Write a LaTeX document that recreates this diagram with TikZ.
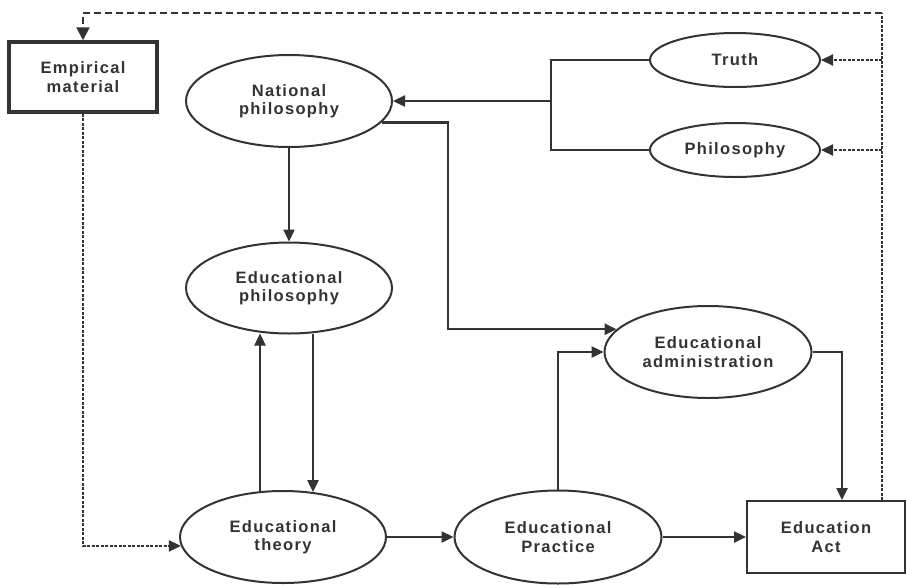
\documentclass[tikz,border=0pt]{standalone}
\usepackage{fontspec}
\setmainfont{Liberation Sans}[LetterSpace=8]
\usetikzlibrary{shapes.geometric,arrows.meta,calc}
\definecolor{ink}{HTML}{333333}
\begin{document}
\begin{tikzpicture}[x=1pt,y=-1pt,
  every node/.style={text=ink,font=\fontsize{16.5}{18.5}\selectfont\bfseries,align=center,inner sep=0pt},
  ell/.style={ellipse,draw=ink,line width=2pt},
  boxa/.style={rectangle,draw=ink,line width=2pt},
  ln/.style={draw=ink,line width=2.4pt,line join=miter},
  tip/.style={-{Triangle[length=12pt,width=11pt]}},
  arr/.style={ln,tip},
  dsh/.style={ln,line width=2.2pt,dash pattern=on 3pt off 1.5pt},
  dshl/.style={ln,line width=2.2pt,dash pattern=on 7pt off 4pt}]
\useasboundingbox (0,0) rectangle (907,584);
\node[boxa,line width=3.5pt,minimum width=148pt,minimum height=70pt] (emp) at (83,77) {Empirical\\material};
\node[ell,minimum width=206pt,minimum height=92pt] (natp) at (289,101) {National\\philosophy};
\node[ell,minimum width=170pt,minimum height=54pt] (truth) at (735,60) {Truth};
\node[ell,minimum width=170pt,minimum height=54pt] (phil) at (735,150) {Philosophy};
\node[ell,minimum width=206pt,minimum height=91pt] (edphil) at (289,288) {Educational\\philosophy};
\node[ell,minimum width=207pt,minimum height=92pt] (edadm) at (708,352) {Educational\\administration};
\node[ell,minimum width=206pt,minimum height=92pt] (theory) at (283,537) {Educational\\theory};
\node[ell,minimum width=207pt,minimum height=93pt] (practice) at (558,537) {Educational\\Practice};
\node[boxa,minimum width=158pt,minimum height=72pt] (act) at (826,537) {Education\\Act};
\coordinate (bx) at (551,0);
\coordinate (c1) at (448,0);
\coordinate (up) at (260,0);
\coordinate (dn) at (313,0);
\coordinate (a2) at (842,0);
\coordinate (r) at (882,0);
\coordinate (top) at (0,13);
% bracket from Truth and Philosophy
\draw[ln] (truth.west) -- (truth.west -| bx) -- (phil.west -| bx) -- (phil.west);
\draw[arr] (bx |- natp.east) -- (natp.east);
% national philosophy
\draw[arr] (natp.south) -- (edphil.north);
\draw[arr] (natp.-13) -- (natp.-13 -| c1) |- (edadm.166);
% educational philosophy <-> theory
\draw[arr] ($(theory.north -| up)+(0,2)$) -- ($(edphil.south -| up)+(0,-1)$);
\draw[arr] ($(edphil.south -| dn)+(0,-1)$) -- ($(theory.north -| dn)+(0,2)$);
% bottom row
\draw[arr] (theory.east) -- (practice.west);
\draw[arr] (practice.east) -- (act.west);
\draw[arr] (practice.north) |- (edadm.west);
\draw[arr] (edadm.east) -| (a2 |- act.north);
% dashed feedback
\draw[dsh,tip] (emp.south) |- (theory.185);
\draw[dsh] (act.north -| r) -- (r |- top);
\draw[dshl,-{Triangle[length=13pt,width=13pt]}] (r |- top) -- (emp.north |- top) -- (emp.north);
\draw[dsh,tip] (truth.east -| r) -- (truth.east);
\draw[dsh,tip] (phil.east -| r) -- (phil.east);
\end{tikzpicture}
\end{document}
